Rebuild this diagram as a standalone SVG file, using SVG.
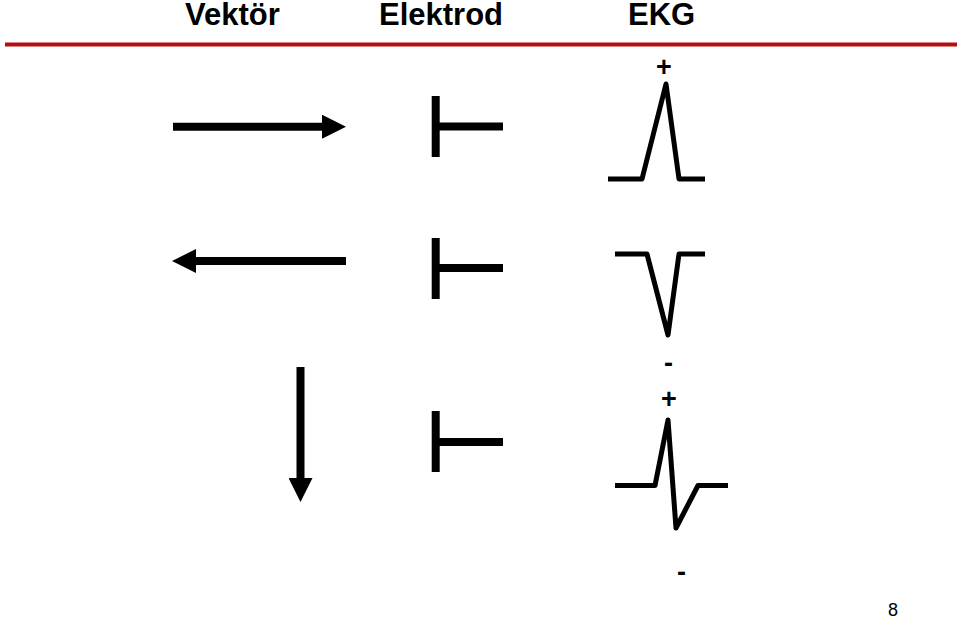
<svg xmlns="http://www.w3.org/2000/svg" width="960" height="617" viewBox="0 0 960 617">
<style>
.title{font-family:"Liberation Sans",Arial,sans-serif;font-weight:bold;font-size:31px;fill:#000}
.sign{font-family:"Liberation Sans",Arial,sans-serif;font-weight:bold;font-size:27px;fill:#000;text-anchor:middle}
.page{font-family:"Liberation Sans",Arial,sans-serif;font-size:18px;fill:#000}
.vec{stroke:#000;stroke-width:8;fill:none;marker-end:url(#ah)}
.el{stroke:#000;stroke-width:8;fill:none}
.ekg{stroke:#000;stroke-width:5;fill:none;stroke-linejoin:round}
</style>
<defs>
<marker id="ah" markerUnits="userSpaceOnUse" markerWidth="24" markerHeight="24" viewBox="0 0 24 24" refX="0" refY="12" orient="auto">
<path d="M0,0 L24,12 L0,24 Z" fill="#000"/>
</marker>
</defs>
<rect width="960" height="617" fill="#fff"/>
<g id="header">
<text class="title" x="185" y="25">Vektör</text>
<text class="title" x="379" y="25">Elektrod</text>
<text class="title" x="628" y="25">EKG</text>
<line x1="5" y1="44.5" x2="957" y2="44.5" stroke="#B50F0F" stroke-width="4"/>
</g>
<g id="connectors">
<line id="vec1" class="vec" x1="173" y1="126.7" x2="322" y2="126.7"/>
<line id="vec2" class="vec" x1="346" y1="261" x2="196" y2="261"/>
<line id="vec3" class="vec" x1="300.5" y1="367" x2="300.5" y2="478"/>
</g>
<g id="electrode1">
<line class="el" x1="435.7" y1="96" x2="435.7" y2="157"/>
<line class="el" x1="439" y1="126.5" x2="503" y2="126.5"/>
</g>
<g id="electrode2">
<line class="el" x1="435.7" y1="238" x2="435.7" y2="299"/>
<line class="el" x1="439" y1="268" x2="503" y2="268"/>
</g>
<g id="electrode3">
<line class="el" x1="435.7" y1="411" x2="435.7" y2="472"/>
<line class="el" x1="439" y1="442" x2="503" y2="442"/>
</g>
<g id="ekg1">
<polyline class="ekg" points="608,179 642,179 666,84 679,179 705,179"/>
<text class="sign" x="664" y="76">+</text>
</g>
<g id="ekg2">
<polyline class="ekg" points="615,254 647,254 668,335 679,254 705,254"/>
<text class="sign" x="668.5" y="372">-</text>
</g>
<g id="ekg3">
<polyline class="ekg" points="615,485.5 655,485.5 668,420 676,528 698,485.5 728,485.5"/>
<text class="sign" x="669" y="408">+</text>
<text class="sign" x="681.5" y="581">-</text>
</g>
<g id="page">
<text class="page" x="888" y="616">8</text>
</g>
</svg>
